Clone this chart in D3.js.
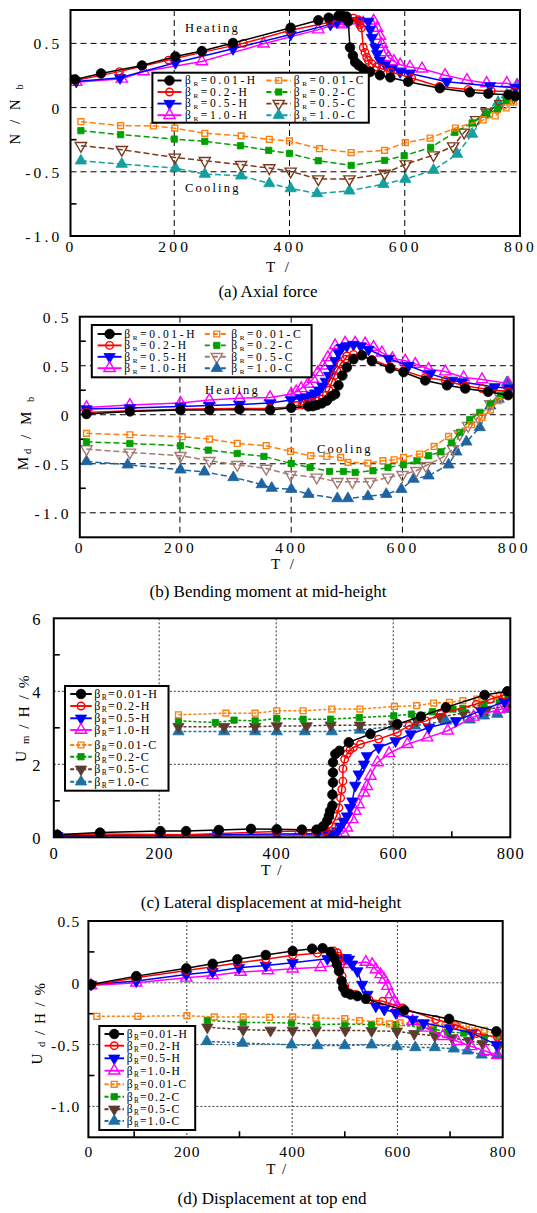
<!DOCTYPE html>
<html>
<head>
<meta charset="utf-8">
<script src="https://cdn.jsdelivr.net/npm/d3@7"></script>
<style>
  body { margin: 0; background: #fff; }
  svg { display: block; font-family: "Liberation Serif", "Times New Roman", serif; }
</style>
</head>
<body>
<svg id="fig" width="537" height="1213"></svg>
<script>
// ---------- shared labels ----------
const betaLabels = ["0.01-H", "0.2-H", "0.5-H", "1.0-H", "0.01-C", "0.2-C", "0.5-C", "1.0-C"];
const tempTicks = [20, 200, 400, 600, 800];
const tempTicksD = [13, 200, 400, 600, 800];
const tempTickLabels = ["0", "200", "400", "600", "800"];

// ---------- (a) axial force N/Nb vs T ----------
const axialTicks = [-1.0, -0.5, 0, 0.5];
const axialTickLabels = ["-1.0", "-0.5", "0", "0.5"];
const aH001 = [[28,0.219],[73,0.266],[144,0.328],[202,0.398],[248,0.44],[302,0.503],[402,0.622],[450,0.68],[468,0.7],[485,0.714],[492,0.714],[499,0.709],[502,0.671],[505,0.468],[510,0.405],[514,0.354],[520,0.329],[528,0.303],[540,0.278],[557,0.252],[575,0.235],[606,0.202],[661,0.151],[713,0.119],[745,0.108],[780,0.1],[792,0.09]];
const aH02 = [[28,0.21],[105,0.28],[190,0.37],[248,0.43],[320,0.5],[400,0.6],[470,0.665],[500,0.69],[511,0.697],[519,0.684],[522,0.645],[525,0.62],[528,0.468],[531,0.43],[534,0.392],[537,0.367],[543,0.341],[551,0.316],[560,0.303],[575,0.278],[612,0.23],[660,0.165],[710,0.14],[750,0.13],[790,0.125]];
const aH05 = [[30,0.203],[106,0.232],[202,0.349],[302,0.458],[402,0.57],[471,0.648],[482,0.666],[500,0.672],[519,0.676],[537,0.671],[540,0.608],[543,0.545],[549,0.468],[552,0.418],[557,0.367],[566,0.334],[578,0.303],[592,0.278],[609,0.265],[673,0.202],[748,0.169],[792,0.155]];
const aH10 = [[30,0.198],[109,0.224],[147,0.281],[248,0.359],[355,0.497],[450,0.607],[486,0.654],[494,0.646],[528,0.659],[546,0.676],[552,0.62],[557,0.557],[560,0.494],[566,0.43],[572,0.392],[581,0.362],[592,0.334],[609,0.316],[630,0.303],[670,0.252],[708,0.214],[742,0.19],[777,0.19],[795,0.172]];
const aC001 = [[38,-0.11],[107,-0.14],[164,-0.143],[201,-0.16],[253,-0.2],[316,-0.22],[365,-0.247],[400,-0.26],[452,-0.32],[507,-0.35],[565,-0.333],[601,-0.273],[644,-0.237],[688,-0.159],[736,-0.096],[757,-0.065],[776,-0.003],[789,0.042]];
const aC02 = [[38,-0.18],[107,-0.211],[200,-0.245],[253,-0.263],[315,-0.297],[364,-0.333],[400,-0.357],[450,-0.414],[507,-0.45],[565,-0.411],[599,-0.375],[645,-0.31],[687,-0.193],[717,-0.12],[742,-0.049],[761,-0.013],[776,0.052],[789,0.076]];
const aC05 = [[38,-0.297],[109,-0.328],[201,-0.388],[253,-0.414],[316,-0.445],[365,-0.471],[402,-0.497],[450,-0.557],[504,-0.557],[565,-0.513],[602,-0.44],[650,-0.37],[684,-0.3],[703,-0.193],[724,-0.096],[742,-0.036],[766,0.029],[789,0.08]];
const aC10 = [[38,-0.414],[109,-0.44],[202,-0.471],[253,-0.518],[316,-0.531],[365,-0.591],[402,-0.63],[448,-0.669],[504,-0.648],[563,-0.596],[601,-0.557],[650,-0.487],[691,-0.362],[717,-0.206],[740,-0.05],[762,0.042],[777,0.1],[795,0.18]];

// ---------- (b) bending moment Md/Mb vs T ----------
const momentTicks = [-1.0, -0.5, 0, 0.5, 1.0];
const momentTickLabels = ["-1.0", "-0.5", "0", "0.5", "0.5"];
const bH001 = [[32,0.007],[110,0.034],[201,0.048],[253,0.048],[307,0.054],[362,0.048],[400,0.071],[431,0.085],[439,0.088],[446,0.099],[455,0.116],[464,0.143],[473,0.19],[479,0.21],[485,0.3],[492,0.4],[500,0.483],[512,0.566],[527,0.606],[545,0.55],[578,0.473],[602,0.434],[641,0.35],[680,0.3],[713,0.267],[754,0.234],[790,0.2]];
const bH02 = [[32,0.024],[110,0.04],[201,0.055],[253,0.06],[307,0.063],[362,0.065],[400,0.08],[410,0.095],[420,0.1],[429,0.115],[438,0.125],[447,0.14],[456,0.16],[463,0.2],[468,0.25],[473,0.334],[478,0.4],[482,0.45],[489,0.52],[497,0.566],[500,0.6],[512,0.616],[527,0.61],[545,0.565],[578,0.49],[602,0.45],[641,0.38],[677,0.35],[713,0.294],[743,0.267],[790,0.235]];
const bH05 = [[32,0.058],[110,0.068],[201,0.085],[253,0.095],[307,0.105],[362,0.119],[400,0.15],[417,0.17],[427,0.18],[437,0.2],[443,0.22],[450,0.25],[456,0.29],[462,0.34],[468,0.4],[473,0.47],[479,0.55],[485,0.63],[491,0.683],[500,0.7],[512,0.716],[525,0.7],[539,0.666],[575,0.573],[611,0.5],[650,0.417],[689,0.35],[707,0.334],[766,0.284],[792,0.27]];
const bH10 = [[32,0.075],[110,0.099],[201,0.119],[253,0.15],[307,0.167],[362,0.177],[400,0.211],[409,0.235],[418,0.269],[430,0.313],[439,0.364],[448,0.432],[457,0.5],[466,0.585],[479,0.706],[497,0.733],[515,0.733],[533,0.726],[548,0.69],[563,0.633],[582,0.575],[605,0.55],[623,0.517],[647,0.466],[677,0.44],[710,0.38],[743,0.36],[790,0.32]];
const bC001 = [[32,-0.19],[110,-0.204],[204,-0.224],[253,-0.248],[303,-0.293],[355,-0.316],[399,-0.374],[435,-0.418],[464,-0.425],[489,-0.435],[502,-0.486],[538,-0.493],[565,-0.469],[585,-0.459],[602,-0.435],[631,-0.401],[657,-0.323],[683,-0.221],[724,-0.102],[743,-0.027],[758,0.048],[773,0.143],[790,0.22]];
const bC02 = [[32,-0.276],[110,-0.293],[201,-0.316],[251,-0.361],[303,-0.395],[351,-0.425],[400,-0.497],[434,-0.537],[469,-0.578],[494,-0.578],[515,-0.588],[547,-0.571],[574,-0.537],[602,-0.51],[626,-0.469],[647,-0.418],[669,-0.378],[688,-0.282],[703,-0.18],[721,-0.051],[739,0.024],[758,0.109],[776,0.194]];
const bC05 = [[32,-0.35],[110,-0.384],[201,-0.418],[253,-0.469],[303,-0.51],[355,-0.548],[399,-0.612],[446,-0.639],[483,-0.684],[510,-0.684],[542,-0.684],[574,-0.639],[600,-0.612],[625,-0.571],[642,-0.52],[672,-0.435],[691,-0.35],[703,-0.197],[718,-0.112],[736,-0.027],[758,0.109],[773,0.211]];
const bC10 = [[32,-0.476],[106,-0.51],[201,-0.561],[244,-0.582],[296,-0.639],[347,-0.711],[365,-0.748],[400,-0.759],[431,-0.81],[483,-0.854],[502,-0.854],[538,-0.833],[571,-0.81],[598,-0.759],[620,-0.656],[647,-0.622],[683,-0.51],[697,-0.378],[715,-0.276],[739,-0.129],[758,0.092],[773,0.16],[788,0.33]];

// ---------- (c) lateral displacement Um/H (%) vs T ----------
const lateralTicks = [0, 2, 4, 6];
const lateralTickLabels = ["0", "2", "4", "6"];
const cH001 = [[26,0.07],[99,0.13],[202,0.17],[246,0.17],[302,0.2],[357,0.23],[401,0.22],[444,0.21],[469,0.21],[480,0.3],[487,0.45],[490,0.58],[492,0.72],[496,0.87],[496,1.17],[497,1.5],[497,1.77],[497,2.05],[501,2.28],[508,2.37],[524,2.6],[561,2.83],[607,3.1],[647,3.31],[690,3.56],[756,3.9],[795,4.0]];
const cH02 = [[26,0.08],[99,0.09],[246,0.07],[401,0.16],[446,0.17],[467,0.17],[484,0.17],[495,0.3],[503,0.58],[507,0.81],[510,1.08],[512,1.31],[514,1.54],[514,1.88],[517,2.14],[521,2.28],[526,2.39],[532,2.46],[544,2.55],[575,2.69],[607,2.87],[627,3.06],[656,3.19],[681,3.38],[742,3.65],[766,3.78],[790,3.9]];
const cH05 = [[26,0.04],[99,0.05],[202,0.06],[300,0.07],[401,0.09],[470,0.1],[488,0.08],[495,0.1],[504,0.17],[510,0.3],[515,0.44],[521,0.58],[526,0.81],[530,0.99],[535,1.42],[541,1.73],[550,2.0],[555,2.23],[575,2.46],[604,2.64],[630,2.83],[661,3.01],[707,3.19],[750,3.47],[790,3.72]];
const cH10 = [[26,0.03],[99,0.04],[202,0.05],[300,0.05],[401,0.05],[437,0.06],[488,0.05],[505,0.06],[515,0.12],[521,0.26],[530,0.49],[535,0.72],[541,0.9],[550,1.22],[555,1.4],[561,1.68],[573,2.05],[593,2.3],[624,2.55],[658,2.73],[693,2.92],[737,3.3],[781,3.5],[798,3.55]];
const cC001 = [[233,3.356],[314,3.402],[364,3.402],[401,3.467],[446,3.467],[495,3.513],[543,3.513],[602,3.586],[640,3.605],[669,3.678],[696,3.697],[719,3.743],[743,3.789],[781,3.881]];
const cC02 = [[233,3.19],[296,3.145],[328,3.209],[364,3.19],[401,3.255],[446,3.237],[493,3.237],[542,3.283],[601,3.329],[631,3.375],[667,3.439],[702,3.513],[719,3.531],[755,3.651],[781,3.743],[796,3.834]];
const cC05 = [[233,3.03],[311,3.03],[364,3.03],[401,3.05],[452,3.05],[493,3.07],[543,3.07],[601,3.1],[640,3.2],[680,3.3],[720,3.4],[760,3.5],[795,3.6]];
const cC10 = [[233,2.897],[311,2.897],[364,2.897],[401,2.897],[449,2.897],[495,2.897],[543,2.943],[601,3.034],[637,3.053],[690,3.191],[731,3.218],[755,3.329],[778,3.375],[796,3.513]];

// ---------- (d) top-end displacement Ud/H (%) vs T ----------
const topTicks = [-1.0, -0.5, 0, 0.5];
const topTickLabels = ["-1.0", "-0.5", "0", "0.5"];
const dH001 = [[18,-0.014],[104,0.054],[199,0.117],[249,0.154],[296,0.19],[350,0.225],[401,0.257],[438,0.276],[458,0.28],[473,0.25],[480,0.2],[485,0.15],[489,0.095],[494,0.014],[497,-0.041],[502,-0.081],[511,-0.095],[524,-0.108],[540,-0.13],[613,-0.222],[698,-0.292],[788,-0.393]];
const dH02 = [[18,-0.022],[103,0.04],[199,0.1],[249,0.13],[296,0.16],[350,0.19],[401,0.222],[448,0.24],[479,0.257],[486,0.243],[489,0.216],[492,0.15],[495,0.054],[500,-0.027],[508,-0.081],[521,-0.095],[546,-0.135],[572,-0.149],[610,-0.203],[673,-0.297],[710,-0.34],[751,-0.41],[790,-0.44]];
const dH05 = [[18,-0.014],[104,0.014],[199,0.068],[249,0.09],[299,0.122],[350,0.14],[401,0.163],[467,0.195],[490,0.2],[502,0.203],[508,0.19],[514,0.15],[524,0.095],[533,-0.014],[543,-0.095],[559,-0.19],[575,-0.216],[597,-0.243],[629,-0.297],[650,-0.325],[700,-0.366],[742,-0.407],[788,-0.5]];
const dH10 = [[18,-0.022],[104,0.0],[199,0.04],[249,0.06],[302,0.087],[354,0.1],[401,0.114],[454,0.125],[500,0.15],[540,0.168],[552,0.149],[559,0.108],[568,0.068],[575,0.027],[581,-0.027],[587,-0.095],[594,-0.149],[600,-0.19],[610,-0.243],[629,-0.311],[654,-0.365],[686,-0.432],[714,-0.473],[740,-0.514],[768,-0.554],[790,-0.585]];
const dC001 = [[29,-0.271],[107,-0.271],[200,-0.266],[252,-0.276],[307,-0.276],[357,-0.279],[401,-0.276],[445,-0.285],[500,-0.29],[528,-0.306],[566,-0.312],[585,-0.333],[605,-0.325],[643,-0.325],[663,-0.331],[691,-0.341],[708,-0.347],[725,-0.352],[742,-0.366],[765,-0.385],[792,-0.42]];
const dC02 = [[239,-0.304],[307,-0.32],[399,-0.325],[447,-0.339],[500,-0.333],[551,-0.339],[597,-0.339],[643,-0.358],[668,-0.374],[695,-0.398],[726,-0.407],[765,-0.434],[792,-0.434]];
const dC05 = [[239,-0.36],[307,-0.379],[359,-0.385],[401,-0.385],[445,-0.385],[501,-0.385],[551,-0.388],[599,-0.393],[632,-0.412],[671,-0.428],[704,-0.447],[736,-0.469],[762,-0.493],[791,-0.515]];
const dC10 = [[238,-0.474],[306,-0.488],[399,-0.501],[448,-0.507],[500,-0.507],[551,-0.501],[599,-0.515],[634,-0.523],[671,-0.523],[707,-0.534],[733,-0.55],[760,-0.583],[789,-0.588]];

// ---------- drawing ----------
const svg = d3.select("#fig");
const shapes = ["circle", "circle", "triDown", "triUp", "square", "square", "triDown", "triUp"];

function markerD(shape, size) {
  const t = shape === "circle" ? d3.symbolCircle : shape === "square" ? d3.symbolSquare : d3.symbolTriangle;
  return d3.symbol().type(t).size(size)();
}

function drawMarker(g, shape, cx, cy, color, filled, size) {
  g.append("path")
    .attr("d", markerD(shape, size))
    .attr("transform", `translate(${cx},${cy})` + (shape === "triDown" ? " rotate(180)" : ""))
    .attr("fill", filled ? color : "none")
    .attr("stroke", color)
    .attr("stroke-width", filled ? 0.8 : 1.4);
}

function betaText(g, x, y, label, fs, ls) {
  const t = g.append("text").attr("x", x).attr("y", y).attr("dy", "0.33em")
    .attr("font-size", fs).style("letter-spacing", ls + "px");
  t.append("tspan").text("β");
  t.append("tspan").attr("font-size", fs * 0.62).attr("dy", 2).text("R");
  t.append("tspan").attr("dy", -2).text("=" + label);
}

function drawPanel(p) {
  const g = svg.append("g");
  const x = d3.scaleLinear().domain(p.xDomain).range([p.left, p.right]);
  const y = d3.scaleLinear().domain(p.yDomain).range([p.bottom, p.top]);
  const clipId = "clip-" + p.id;
  svg.append("clipPath").attr("id", clipId).append("rect")
    .attr("x", p.left).attr("y", p.top).attr("width", p.right - p.left).attr("height", p.bottom - p.top);

  // grid
  const grid = g.append("g").attr("stroke", p.gridColor).attr("stroke-width", p.gridWidth)
    .attr("stroke-dasharray", p.gridDash).attr("fill", "none");
  p.xGrid.forEach(v => grid.append("line").attr("x1", x(v)).attr("x2", x(v)).attr("y1", p.top).attr("y2", p.bottom));
  p.yGrid.forEach(v => grid.append("line").attr("x1", p.left).attr("x2", p.right).attr("y1", y(v)).attr("y2", y(v)));

  // minor ticks (inward)
  const mt = g.append("g").attr("stroke", "#000").attr("stroke-width", 1.6);
  p.yMinor.forEach(v => mt.append("line").attr("x1", p.left).attr("x2", p.left + 6).attr("y1", y(v)).attr("y2", y(v)));
  p.xMinor.forEach(v => mt.append("line").attr("x1", x(v)).attr("x2", x(v)).attr("y1", p.bottom).attr("y2", p.bottom - 6));

  // series
  const data = g.append("g").attr("clip-path", `url(#${clipId})`);
  const line = d3.line().x(d => x(d[0])).y(d => y(d[1]));
  const order = [7, 6, 5, 4, 3, 2, 1, 0];
  order.forEach(i => {
    const s = p.series[i];
    const cooling = i >= 4;
    data.append("path").datum(s)
      .attr("d", line)
      .attr("fill", "none")
      .attr("stroke", p.colors[i])
      .attr("stroke-width", p.lineWidth)
      .attr("stroke-dasharray", cooling ? p.coolDash : null);
    s.forEach(d => drawMarker(data, shapes[i], x(d[0]), y(d[1]), p.colors[i], p.filled[i], p.markSize[i]));
  });

  // frame
  g.append("rect").attr("x", p.left).attr("y", p.top).attr("width", p.right - p.left).attr("height", p.bottom - p.top)
    .attr("fill", "none").attr("stroke", "#000").attr("stroke-width", 2);

  // tick labels through d3 axes
  const xa = g.append("g").attr("transform", `translate(0,${p.bottom})`)
    .call(d3.axisBottom(x).tickValues(p.xTicks).tickFormat((d, i) => tempTickLabels[i]).tickSize(0));
  xa.select(".domain").remove();
  xa.selectAll("text").attr("y", p.xLabelOffset).attr("dy", "0.35em")
    .attr("font-size", p.tickFont).attr("font-family", "Liberation Serif, serif").attr("fill", "#000")
    .style("letter-spacing", p.tickLs + "px");

  const ya = g.append("g").attr("transform", `translate(${p.left},0)`)
    .call(d3.axisLeft(y).tickValues(p.yTicks).tickFormat((d, i) => p.yTickLabels[i]).tickSize(0));
  ya.select(".domain").remove();
  ya.selectAll("text").attr("x", -p.yLabelOffset).attr("dy", "0.35em")
    .attr("font-size", p.tickFont).attr("font-family", "Liberation Serif, serif").attr("fill", "#000")
    .style("letter-spacing", p.tickLs + "px");

  // axis titles
  g.append("text").attr("x", p.xTitle[0]).attr("y", p.xTitle[1]).attr("dy", "0.35em")
    .attr("text-anchor", "middle").attr("font-size", p.titleFont).style("letter-spacing", p.titleLs + "px")
    .text("T /");
  const yt = g.append("text").attr("transform", `translate(${p.yTitle[0]},${p.yTitle[1]}) rotate(-90)`)
    .attr("text-anchor", "middle").attr("dy", "0.35em").attr("font-size", p.titleFont)
    .style("letter-spacing", p.titleLs + "px");
  p.yTitleParts.forEach(part => {
    if (part.sub) {
      yt.append("tspan").attr("font-size", p.titleFont * 0.7).attr("dy", 3).text(part.t);
      yt.append("tspan").attr("dy", -3).text("");
    } else {
      yt.append("tspan").text(part.t);
    }
  });

  // annotations
  (p.notes || []).forEach(n => g.append("text").attr("x", n.x).attr("y", n.y).attr("dy", "0.35em")
    .attr("font-size", 12.5).style("letter-spacing", "2.2px").text(n.t));

  // legend
  const L = p.legend;
  const lg = g.append("g");
  lg.append("rect").attr("x", L.box[0]).attr("y", L.box[1]).attr("width", L.box[2] - L.box[0]).attr("height", L.box[3] - L.box[1])
    .attr("fill", "#fff").attr("stroke", "#000").attr("stroke-width", 2);
  betaLabels.forEach((lab, i) => {
    const col = L.cols[L.colOf(i)];
    const yy = L.rows[L.rowOf(i)];
    lg.append("line").attr("x1", col.x1).attr("x2", col.x2).attr("y1", yy).attr("y2", yy)
      .attr("stroke", p.colors[i]).attr("stroke-width", p.lineWidth + 0.4)
      .attr("stroke-dasharray", i >= 4 ? p.legendDash : null);
    drawMarker(lg, shapes[i], (col.x1 + col.x2) / 2, yy, p.colors[i], p.filled[i], p.markSize[i]);
    betaText(lg, col.tx, yy, lab, L.font, L.ls);
  });

  // caption
  svg.append("text").attr("x", p.caption[0]).attr("y", p.caption[1]).attr("dy", "0.35em")
    .attr("text-anchor", "middle").attr("font-size", 17).text(p.caption[2]);
}

const colorsAB = (brown, teal, green) => ["#000000", "#ff0000", "#0000ff", "#ff00ff", "#ff7f0e", green, brown, teal];

drawPanel({
  id: "a", left: 70.5, right: 520, top: 10, bottom: 236,
  xDomain: [20, 800], yDomain: [-1.0, 0.76],
  xTicks: tempTicks, yTicks: axialTicks, yTickLabels: axialTickLabels,
  xGrid: [200, 400, 600], yGrid: [0.5, 0, -0.5], yMinor: [0.25, -0.25, -0.75], xMinor: [],
  gridColor: "#000", gridWidth: 1, gridDash: "6,4",
  series: [aH001, aH02, aH05, aH10, aC001, aC02, aC05, aC10],
  colors: colorsAB("#7a3a1c", "#14a0a0", "#00a000"),
  filled: [true, false, true, false, false, true, false, true],
  markSize: [72, 44, 55, 55, 34, 40, 55, 55],
  lineWidth: 1.5, coolDash: "6,3", legendDash: "5,3",
  tickFont: 15.5, tickLs: 3.2, xLabelOffset: 11, yLabelOffset: 8,
  titleFont: 15, titleLs: 3, xTitle: [279, 267], yTitle: [15, 113],
  yTitleParts: [{ t: "N / N " }, { t: "b", sub: true }],
  notes: [{ x: 185, y: 27.5, t: "Heating" }, { x: 185, y: 187.5, t: "Cooling" }],
  legend: {
    box: [152.4, 72.7, 368.8, 122.7], rows: [80.5, 92, 103.6, 115.2],
    cols: [{ x1: 157.5, x2: 181.5, tx: 185 }, { x1: 266.4, x2: 291, tx: 293.8 }],
    colOf: i => (i < 4 ? 0 : 1), rowOf: i => i % 4, font: 11.5, ls: 2.6
  },
  caption: [268, 291, "(a) Axial force"]
});

drawPanel({
  id: "b", left: 79.8, right: 513.7, top: 316.7, bottom: 537.3,
  xDomain: [20, 800], yDomain: [-1.25, 1.0],
  xTicks: tempTicks, yTicks: momentTicks, yTickLabels: momentTickLabels,
  xGrid: [200, 400, 600], yGrid: [0.5, 0, -0.5, -1.0], yMinor: [0.75, 0.25, -0.25, -0.75], xMinor: [],
  gridColor: "#000", gridWidth: 1, gridDash: "6,4",
  series: [bH001, bH02, bH05, bH10, bC001, bC02, bC05, bC10],
  colors: colorsAB("#a37a72", "#1f64a0", "#00a000"),
  filled: [true, false, true, false, false, true, false, true],
  markSize: [72, 44, 55, 55, 34, 40, 55, 55],
  lineWidth: 1.5, coolDash: "6,3", legendDash: "5,3",
  tickFont: 15.5, tickLs: 3.2, xLabelOffset: 10, yLabelOffset: 8,
  titleFont: 15, titleLs: 3, xTitle: [284, 563.5], yTitle: [23, 432],
  yTitleParts: [{ t: "M" }, { t: "d", sub: true }, { t: " / M " }, { t: "b", sub: true }],
  notes: [{ x: 205, y: 389.5, t: "Heating" }, { x: 317, y: 448.5, t: "Cooling" }],
  legend: {
    box: [91.8, 325, 311.6, 377.3], rows: [334, 345.4, 356.8, 368.2],
    cols: [{ x1: 97.6, x2: 121.6, tx: 124.3 }, { x1: 204.8, x2: 228.8, tx: 231.2 }],
    colOf: i => (i < 4 ? 0 : 1), rowOf: i => i % 4, font: 11.5, ls: 2.6
  },
  caption: [268, 591, "(b) Bending moment at mid-height"]
});

drawPanel({
  id: "c", left: 53.8, right: 510.3, top: 618.3, bottom: 837.3,
  xDomain: [20, 800], yDomain: [0, 6],
  xTicks: tempTicks, yTicks: lateralTicks, yTickLabels: lateralTickLabels,
  xGrid: [200, 400, 600], yGrid: [2, 4], yMinor: [1, 3, 5], xMinor: [100, 300, 500, 700],
  gridColor: "#222", gridWidth: 0.9, gridDash: "2,2",
  series: [cH001, cH02, cH05, cH10, cC001, cC02, cC05, cC10],
  colors: colorsAB("#5c3a30", "#1d6fa3", "#009a00"),
  filled: [true, false, true, false, false, true, true, true],
  markSize: [72, 44, 55, 55, 34, 40, 55, 55],
  lineWidth: 1.5, coolDash: "3,2", legendDash: "4,2",
  tickFont: 16.5, tickLs: 1.2, xLabelOffset: 16, yLabelOffset: 12,
  titleFont: 15.5, titleLs: 1.5, xTitle: [272, 870], yTitle: [21, 718],
  yTitleParts: [{ t: "U " }, { t: "m", sub: true }, { t: " / H / %" }],
  notes: [],
  legend: {
    box: [65, 686, 168.5, 790.7], rows: [694, 706, 718.3, 730, 745, 756.7, 769.3, 781.7],
    cols: [{ x1: 70.2, x2: 91.8, tx: 94.2 }],
    colOf: () => 0, rowOf: i => i, font: 12, ls: 1.4
  },
  caption: [271, 902, "(c) Lateral displacement at mid-height"]
});

drawPanel({
  id: "d", left: 88.4, right: 502.7, top: 921, bottom: 1137.3,
  xDomain: [13, 800], yDomain: [-1.25, 0.5],
  xTicks: tempTicksD, yTicks: topTicks, yTickLabels: topTickLabels,
  xGrid: [200, 400, 600], yGrid: [0, -0.5, -1.0], yMinor: [0.25, -0.25, -0.75], xMinor: [100, 300, 500, 700],
  gridColor: "#222", gridWidth: 0.9, gridDash: "2,2",
  series: [dH001, dH02, dH05, dH10, dC001, dC02, dC05, dC10],
  colors: colorsAB("#5c3a30", "#1d6fa3", "#009a00"),
  filled: [true, false, true, false, false, true, true, true],
  markSize: [72, 44, 55, 55, 34, 40, 55, 55],
  lineWidth: 1.5, coolDash: "3,2", legendDash: "4,2",
  tickFont: 15.5, tickLs: 1.2, xLabelOffset: 14, yLabelOffset: 8,
  titleFont: 15, titleLs: 1.5, xTitle: [277, 1168.5], yTitle: [37, 1023],
  yTitleParts: [{ t: "U " }, { t: "d", sub: true }, { t: " / H / %" }],
  notes: [],
  legend: {
    box: [99.3, 1026, 195.2, 1130], rows: [1034, 1045.7, 1058.3, 1070.7, 1084.3, 1096.7, 1109.3, 1121],
    cols: [{ x1: 104.5, x2: 124, tx: 126.7 }],
    colOf: () => 0, rowOf: i => i, font: 11.6, ls: 1.3
  },
  caption: [272, 1198, "(d) Displacement at top end"]
});
</script>
</body>
</html>
